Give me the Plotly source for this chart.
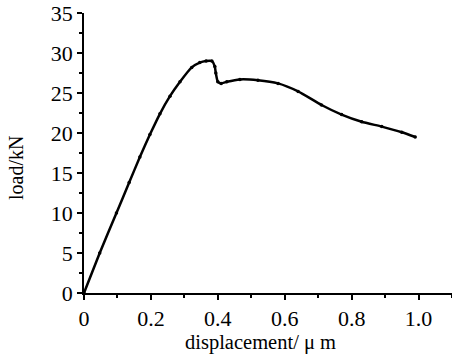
import plotly.graph_objects as go

disp = [0, 0.047, 0.097, 0.135, 0.167, 0.197, 0.227, 0.257, 0.287, 0.322, 0.346, 0.365, 0.382, 0.391, 0.394, 0.40, 0.41, 0.427, 0.466, 0.52, 0.58, 0.64, 0.71, 0.77, 0.83, 0.89, 0.95, 0.99]
load = [0, 5, 10, 13.8, 17.0, 19.8, 22.4, 24.6, 26.4, 28.2, 28.8, 29.0, 29.0, 28.3, 27.5, 26.4, 26.2, 26.4, 26.7, 26.6, 26.2, 25.2, 23.5, 22.3, 21.4, 20.8, 20.1, 19.5]

x_ticks = [0, 0.2, 0.4, 0.6, 0.8, 1.0]
x_labels = ["0", "0.2", "0.4", "0.6", "0.8", "1.0"]
y_ticks = [0, 5, 10, 15, 20, 25, 30, 35]
x_title = "displacement/ μ m"
y_title = "load/kN"

font = "Liberation Serif"
W, H = 452, 356
L, R, T, B = 84, 0, 13, 63

fig = go.Figure()
fig.add_trace(go.Scatter(
    x=disp, y=load, mode="lines+markers",
    line=dict(color="black", width=2.5, shape="spline", smoothing=0.5),
    marker=dict(color="black", size=3.5),
    showlegend=False, hoverinfo="skip",
))

pw = W - L - R
ph = H - T - B
fig.update_layout(
    width=W, height=H,
    margin=dict(l=L, r=R, t=T, b=B),
    plot_bgcolor="white", paper_bgcolor="white",
    font=dict(family=font, size=22, color="black"),
    annotations=[
        dict(text=x_title, xref="paper", yref="paper",
             x=(260 - L) / pw, y=-(342 - (H - B)) / ph,
             xanchor="center", yanchor="middle", showarrow=False,
             font=dict(family=font, size=20.5, color="black")),
        dict(text=y_title, xref="paper", yref="paper",
             x=-(L - 16) / pw, y=1 - (168 - T) / ph, textangle=-90,
             xanchor="center", yanchor="middle", showarrow=False,
             font=dict(family=font, size=20, color="black")),
    ],
)
fig.update_xaxes(
    range=[0, 1.1], tickvals=x_ticks, ticktext=x_labels,
    tickfont=dict(family=font, size=22, color="black"),
    showline=True, linecolor="black", linewidth=1.5,
    ticks="outside", ticklen=5, tickwidth=1.5, tickcolor="black",
    minor=dict(dtick=0.1, ticks="outside", ticklen=3, tickwidth=1.5, tickcolor="black"),
    showgrid=False, zeroline=False, automargin=False, fixedrange=True,
)
fig.update_yaxes(
    range=[0, 35], tickvals=y_ticks,
    tickfont=dict(family=font, size=22, color="black"),
    showline=True, linecolor="black", linewidth=1.5,
    ticks="outside", ticklen=5, tickwidth=1.5, tickcolor="black",
    minor=dict(dtick=2.5, ticks="outside", ticklen=3, tickwidth=1.5, tickcolor="black"),
    showgrid=False, zeroline=False, automargin=False, fixedrange=True,
)

fig.write_html("out.html", config={"displayModeBar": False},
               post_script="document.body.style.margin='0';document.body.style.overflow='hidden';")
